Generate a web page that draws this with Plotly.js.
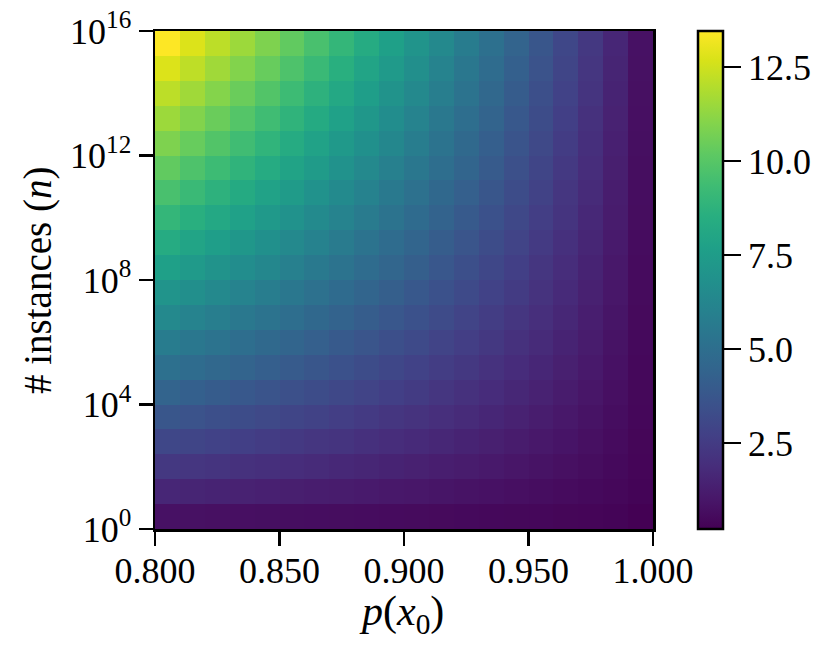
<!DOCTYPE html>
<html>
<head>
<meta charset="utf-8">
<script src="https://cdn.plot.ly/plotly-3.0.1.min.js"></script>
<style>
  html, body { margin: 0; padding: 0; background: #fff; }
  #chart { width: 831px; height: 656px; }
</style>
</head>
<body>
<div id="chart"></div>
<script>
// cell edges along p(x0)
const pEdges = [0.80, 0.81, 0.82, 0.83, 0.84, 0.85, 0.86, 0.87, 0.88, 0.89, 0.90,
                0.91, 0.92, 0.93, 0.94, 0.95, 0.96, 0.97, 0.98, 0.99, 1.00];
// cell edges along n, as powers of ten
const nEdgeExp = [0, 0.8, 1.6, 2.4, 3.2, 4.0, 4.8, 5.6, 6.4, 7.2, 8.0,
                  8.8, 9.6, 10.4, 11.2, 12.0, 12.8, 13.6, 14.4, 15.2, 16.0];

// rows from the smallest n (bottom) to the largest n (top), columns from p=0.80 to p=1.00
const row00 = [0.80, 0.78, 0.75, 0.73, 0.71, 0.68, 0.66, 0.63, 0.61, 0.58, 0.56, 0.53, 0.50, 0.48, 0.45, 0.42, 0.38, 0.35, 0.31, 0.21];
const row01 = [1.61, 1.55, 1.49, 1.43, 1.37, 1.31, 1.25, 1.19, 1.13, 1.06, 1.00, 0.93, 0.87, 0.80, 0.73, 0.66, 0.58, 0.50, 0.42, 0.31];
const row02 = [2.34, 2.25, 2.16, 2.06, 1.97, 1.87, 1.78, 1.68, 1.59, 1.49, 1.39, 1.29, 1.19, 1.08, 0.98, 0.87, 0.75, 0.63, 0.50, 0.35];
const row03 = [3.04, 2.92, 2.79, 2.67, 2.54, 2.41, 2.28, 2.16, 2.02, 1.89, 1.76, 1.62, 1.49, 1.35, 1.21, 1.06, 0.91, 0.75, 0.58, 0.38];
const row04 = [3.73, 3.57, 3.42, 3.26, 3.10, 2.94, 2.78, 2.61, 2.45, 2.28, 2.12, 1.95, 1.78, 1.61, 1.43, 1.25, 1.06, 0.87, 0.66, 0.42];
const row05 = [4.41, 4.22, 4.03, 3.84, 3.64, 3.45, 3.26, 3.06, 2.87, 2.67, 2.47, 2.27, 2.06, 1.85, 1.64, 1.43, 1.21, 0.98, 0.73, 0.45];
const row06 = [5.08, 4.85, 4.63, 4.41, 4.18, 3.96, 3.73, 3.50, 3.28, 3.04, 2.81, 2.58, 2.34, 2.10, 1.85, 1.61, 1.35, 1.08, 0.80, 0.48];
const row07 = [5.74, 5.48, 5.23, 4.97, 4.72, 4.46, 4.20, 3.94, 3.68, 3.42, 3.15, 2.88, 2.61, 2.34, 2.06, 1.78, 1.49, 1.19, 0.87, 0.50];
const row08 = [6.39, 6.11, 5.82, 5.53, 5.25, 4.96, 4.67, 4.37, 4.08, 3.78, 3.49, 3.19, 2.88, 2.58, 2.27, 1.95, 1.62, 1.29, 0.93, 0.53];
const row09 = [7.04, 6.73, 6.41, 6.09, 5.77, 5.45, 5.13, 4.80, 4.48, 4.15, 3.82, 3.49, 3.15, 2.81, 2.47, 2.12, 1.76, 1.39, 1.00, 0.56];
const row10 = [7.69, 7.34, 6.99, 6.64, 6.29, 5.94, 5.58, 5.23, 4.87, 4.51, 4.15, 3.78, 3.42, 3.04, 2.67, 2.28, 1.89, 1.49, 1.06, 0.58];
const row11 = [8.33, 7.95, 7.57, 7.19, 6.81, 6.42, 6.04, 5.65, 5.26, 4.87, 4.48, 4.08, 3.68, 3.28, 2.87, 2.45, 2.02, 1.59, 1.13, 0.61];
const row12 = [8.97, 8.56, 8.15, 7.74, 7.32, 6.91, 6.49, 6.07, 5.65, 5.23, 4.80, 4.37, 3.94, 3.50, 3.06, 2.61, 2.16, 1.68, 1.19, 0.63];
const row13 = [9.61, 9.17, 8.73, 8.28, 7.84, 7.39, 6.94, 6.49, 6.04, 5.58, 5.13, 4.67, 4.20, 3.73, 3.26, 2.78, 2.28, 1.78, 1.25, 0.66];
const row14 = [10.25, 9.77, 9.30, 8.83, 8.35, 7.87, 7.39, 6.91, 6.42, 5.94, 5.45, 4.96, 4.46, 3.96, 3.45, 2.94, 2.41, 1.87, 1.31, 0.68];
const row15 = [10.88, 10.38, 9.87, 9.37, 8.86, 8.35, 7.84, 7.32, 6.81, 6.29, 5.77, 5.25, 4.72, 4.18, 3.64, 3.10, 2.54, 1.97, 1.37, 0.71];
const row16 = [11.51, 10.98, 10.44, 9.91, 9.37, 8.83, 8.28, 7.74, 7.19, 6.64, 6.09, 5.53, 4.97, 4.41, 3.84, 3.26, 2.67, 2.06, 1.43, 0.73];
const row17 = [12.14, 11.58, 11.01, 10.44, 9.87, 9.30, 8.73, 8.15, 7.57, 6.99, 6.41, 5.82, 5.23, 4.63, 4.03, 3.42, 2.79, 2.16, 1.49, 0.75];
const row18 = [12.77, 12.18, 11.58, 10.98, 10.38, 9.77, 9.17, 8.56, 7.95, 7.34, 6.73, 6.11, 5.48, 4.85, 4.22, 3.57, 2.92, 2.25, 1.55, 0.78];
const row19 = [13.46, 12.77, 12.14, 11.51, 10.88, 10.25, 9.61, 8.97, 8.33, 7.69, 7.04, 6.39, 5.74, 5.08, 4.41, 3.73, 3.04, 2.34, 1.61, 0.80];

const yTickExp = [0, 4, 8, 12, 16];
const xTickVals = [0.80, 0.85, 0.90, 0.95, 1.00];
const cbTickVals = [2.5, 5.0, 7.5, 10.0, 12.5];

const zRows = [row00, row01, row02, row03, row04, row05, row06, row07, row08, row09,
               row10, row11, row12, row13, row14, row15, row16, row17, row18, row19];

const FONT = "'Liberation Serif', 'DejaVu Serif', serif";
const TICK_FONT = { family: FONT, size: 36, color: "#000" };

const trace = {
  type: "heatmap",
  x: pEdges,
  y: nEdgeExp.map((e) => Math.pow(10, e)),
  z: zRows,
  colorscale: "Viridis",
  hoverinfo: "skip",
  colorbar: {
    x: 1.0904,
    xanchor: "left",
    xpad: 0,
    y: 0.5,
    yanchor: "middle",
    ypad: 0,
    len: 1,
    lenmode: "fraction",
    thickness: 25,
    thicknessmode: "pixels",
    outlinecolor: "#000",
    outlinewidth: 2.5,
    tickvals: cbTickVals,
    tickformat: ".1f",
    ticks: "outside",
    ticklen: 17,
    tickwidth: 2.5,
    tickcolor: "#000",
    tickfont: TICK_FONT,
  },
};

const axisCommon = {
  showline: true,
  mirror: true,
  linecolor: "#000",
  linewidth: 2.5,
  ticks: "outside",
  ticklen: 14,
  tickwidth: 2.5,
  tickcolor: "#000",
  showgrid: false,
  zeroline: false,
  tickfont: TICK_FONT,
};

const layout = {
  width: 831,
  height: 656,
  margin: { l: 155, r: 178, t: 31, b: 127 },
  paper_bgcolor: "#fff",
  plot_bgcolor: "#fff",
  showlegend: false,
  xaxis: Object.assign({}, axisCommon, {
    range: [0.8, 1.0],
    tickvals: xTickVals,
    tickformat: ".3f",
    ticklabelstandoff: -6,
  }),
  yaxis: Object.assign({}, axisCommon, {
    type: "log",
    range: [0, 16],
    tickvals: yTickExp.map((e) => Math.pow(10, e)),
    ticktext: yTickExp.map((e) => "10<sup>" + e + "</sup>"),
  }),
  // axis titles as annotations so they sit where the reference has them
  annotations: [
    {
      text: "<i>p</i>(<i>x</i><sub>0</sub>)",
      xref: "paper", yref: "paper",
      x: 0.5, y: 0,
      xanchor: "center", yanchor: "middle",
      xshift: -3, yshift: -85,
      showarrow: false,
      font: { family: FONT, size: 42, color: "#000" },
    },
    {
      text: "# instances (<i>n</i>)",
      xref: "paper", yref: "paper",
      x: 0, y: 0.5,
      xanchor: "center", yanchor: "middle",
      xshift: -117, yshift: -1,
      textangle: -90,
      showarrow: false,
      font: { family: FONT, size: 39, color: "#000" },
    },
  ],
};

Plotly.newPlot("chart", [trace], layout, { displayModeBar: false, staticPlot: true });
</script>
</body>
</html>
